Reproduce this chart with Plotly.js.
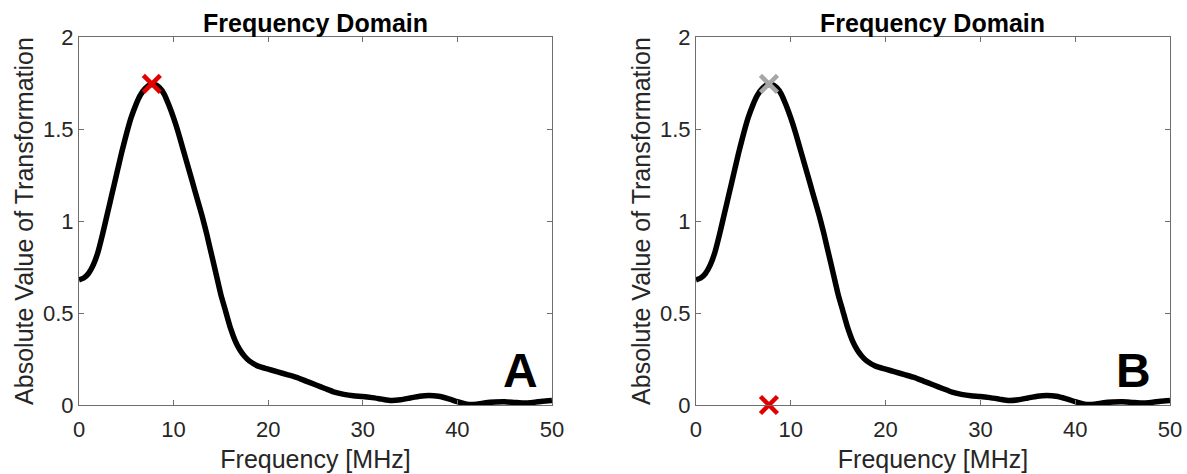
<!DOCTYPE html>
<html>
<head>
<meta charset="utf-8">
<script src="https://cdn.plot.ly/plotly-3.0.1.min.js"></script>
<style>html,body{margin:0;padding:0;background:#fff;}#chart{width:1187px;height:474px;}</style>
</head>
<body>
<div id="chart"></div>
<script>
// Frequency spectrum (MHz) and absolute value of transformation
const frequency = [0, 0.5, 1, 1.5, 2, 2.5, 3, 3.5, 4, 4.5, 5, 5.5, 6, 6.5, 7, 7.5, 8, 8.5, 9, 9.5, 10, 10.5, 11, 11.5, 12, 12.5, 13, 13.5, 14, 14.5, 15, 15.5, 16, 16.5, 17, 17.5, 18, 19, 20, 21, 22, 23, 24, 25, 26, 27, 28, 29, 30, 31, 32, 33, 34, 35, 36, 37, 38, 39, 40, 41, 42, 43, 44, 45, 46, 47, 48, 49, 50];
const magnitude = [0.68, 0.69, 0.715, 0.76, 0.83, 0.93, 1.04, 1.15, 1.26, 1.37, 1.47, 1.56, 1.63, 1.685, 1.72, 1.74, 1.742, 1.725, 1.69, 1.63, 1.56, 1.48, 1.39, 1.30, 1.21, 1.12, 1.03, 0.93, 0.82, 0.71, 0.60, 0.51, 0.42, 0.35, 0.30, 0.265, 0.24, 0.21, 0.195, 0.18, 0.165, 0.15, 0.13, 0.11, 0.09, 0.07, 0.058, 0.05, 0.046, 0.04, 0.032, 0.024, 0.028, 0.038, 0.048, 0.052, 0.048, 0.035, 0.018, 0.004, 0.004, 0.012, 0.016, 0.017, 0.014, 0.011, 0.014, 0.02, 0.024];
const peakFreq = [7.7];
const peakValA = [1.745];
const peakValB = [1.745];
const markedValB = [0];
const panelLabels = ["A", "B"];
const titleText = "Frequency Domain";
const xTitle = "Frequency [MHz]";
const yTitle = "Absolute Value of Transformation";
const xTicks = [0, 10, 20, 30, 40, 50];
const yTicks = [0, 0.5, 1, 1.5, 2];
const yTickText = ["0", "0.5", "1", "1.5", "2"];

const FONT = "Liberation Sans, Arial, sans-serif";
const lineStyle = {color: "#000", width: 5.5, shape: "spline", smoothing: 0.5};

function xMarker(col) {
  return {symbol: "x-thin-open", size: 17, color: col, line: {color: col, width: 4.5}};
}

const traces = [
  {x: frequency, y: magnitude, xaxis: "x", yaxis: "y", mode: "lines", line: lineStyle},
  {x: peakFreq, y: peakValA, xaxis: "x", yaxis: "y", mode: "markers", marker: xMarker("#e00000")},
  {x: frequency, y: magnitude, xaxis: "x2", yaxis: "y2", mode: "lines", line: lineStyle},
  {x: peakFreq, y: peakValB, xaxis: "x2", yaxis: "y2", mode: "markers", marker: xMarker("#a6a6a6")},
  {x: peakFreq, y: markedValB, xaxis: "x2", yaxis: "y2", mode: "markers", cliponaxis: false, marker: xMarker("#e00000")}
];

function xax(domain, anchor) {
  return {domain: domain, anchor: anchor, range: [0, 50], tickvals: xTicks, ticks: "inside", ticklen: 5,
    tickcolor: "#6e6e6e", showline: true, linecolor: "#6e6e6e", linewidth: 1, mirror: "ticks",
    showgrid: false, zeroline: false, ticklabelstandoff: 5, tickfont: {family: FONT, size: 22, color: "#262626"},
    title: {text: xTitle, font: {family: FONT, size: 25, color: "#262626"}, standoff: 9}};
}
function yax(anchor) {
  return {domain: [0, 1], anchor: anchor, range: [0, 2], tickvals: yTicks, ticktext: yTickText, ticks: "inside", ticklen: 5,
    tickcolor: "#6e6e6e", showline: true, linecolor: "#6e6e6e", linewidth: 1, mirror: "ticks",
    showgrid: false, zeroline: false, tickfont: {family: FONT, size: 22, color: "#262626"},
    title: {text: yTitle, font: {family: FONT, size: 25, color: "#262626"}, standoff: 2}};
}

const layout = {
  width: 1187, height: 474,
  margin: {l: 79, r: 17, t: 37, b: 69},
  paper_bgcolor: "#fff", plot_bgcolor: "#fff",
  showlegend: false,
  xaxis: xax([0, 0.4335], "y"),
  yaxis: yax("x"),
  xaxis2: xax([0.5655, 1], "y2"),
  yaxis2: yax("x2"),
  annotations: [
    {text: "<b>" + titleText + "</b>", xref: "x domain", yref: "paper", x: 0.5, y: 1, yshift: 14, yanchor: "middle", showarrow: false, font: {family: FONT, size: 25, color: "#000"}},
    {text: "<b>" + titleText + "</b>", xref: "x2 domain", yref: "paper", x: 0.5, y: 1, yshift: 14, yanchor: "middle", showarrow: false, font: {family: FONT, size: 25, color: "#000"}},
    {text: "<b>" + panelLabels[0] + "</b>", xref: "x domain", yref: "y domain", x: 0.975, y: 0.095, xanchor: "right", yanchor: "middle", showarrow: false, font: {family: FONT, size: 48, color: "#000"}},
    {text: "<b>" + panelLabels[1] + "</b>", xref: "x2 domain", yref: "y2 domain", x: 0.965, y: 0.095, xanchor: "right", yanchor: "middle", showarrow: false, font: {family: FONT, size: 48, color: "#000"}}
  ]
};

Plotly.newPlot("chart", traces, layout, {displayModeBar: false, staticPlot: true});
</script>
</body>
</html>
